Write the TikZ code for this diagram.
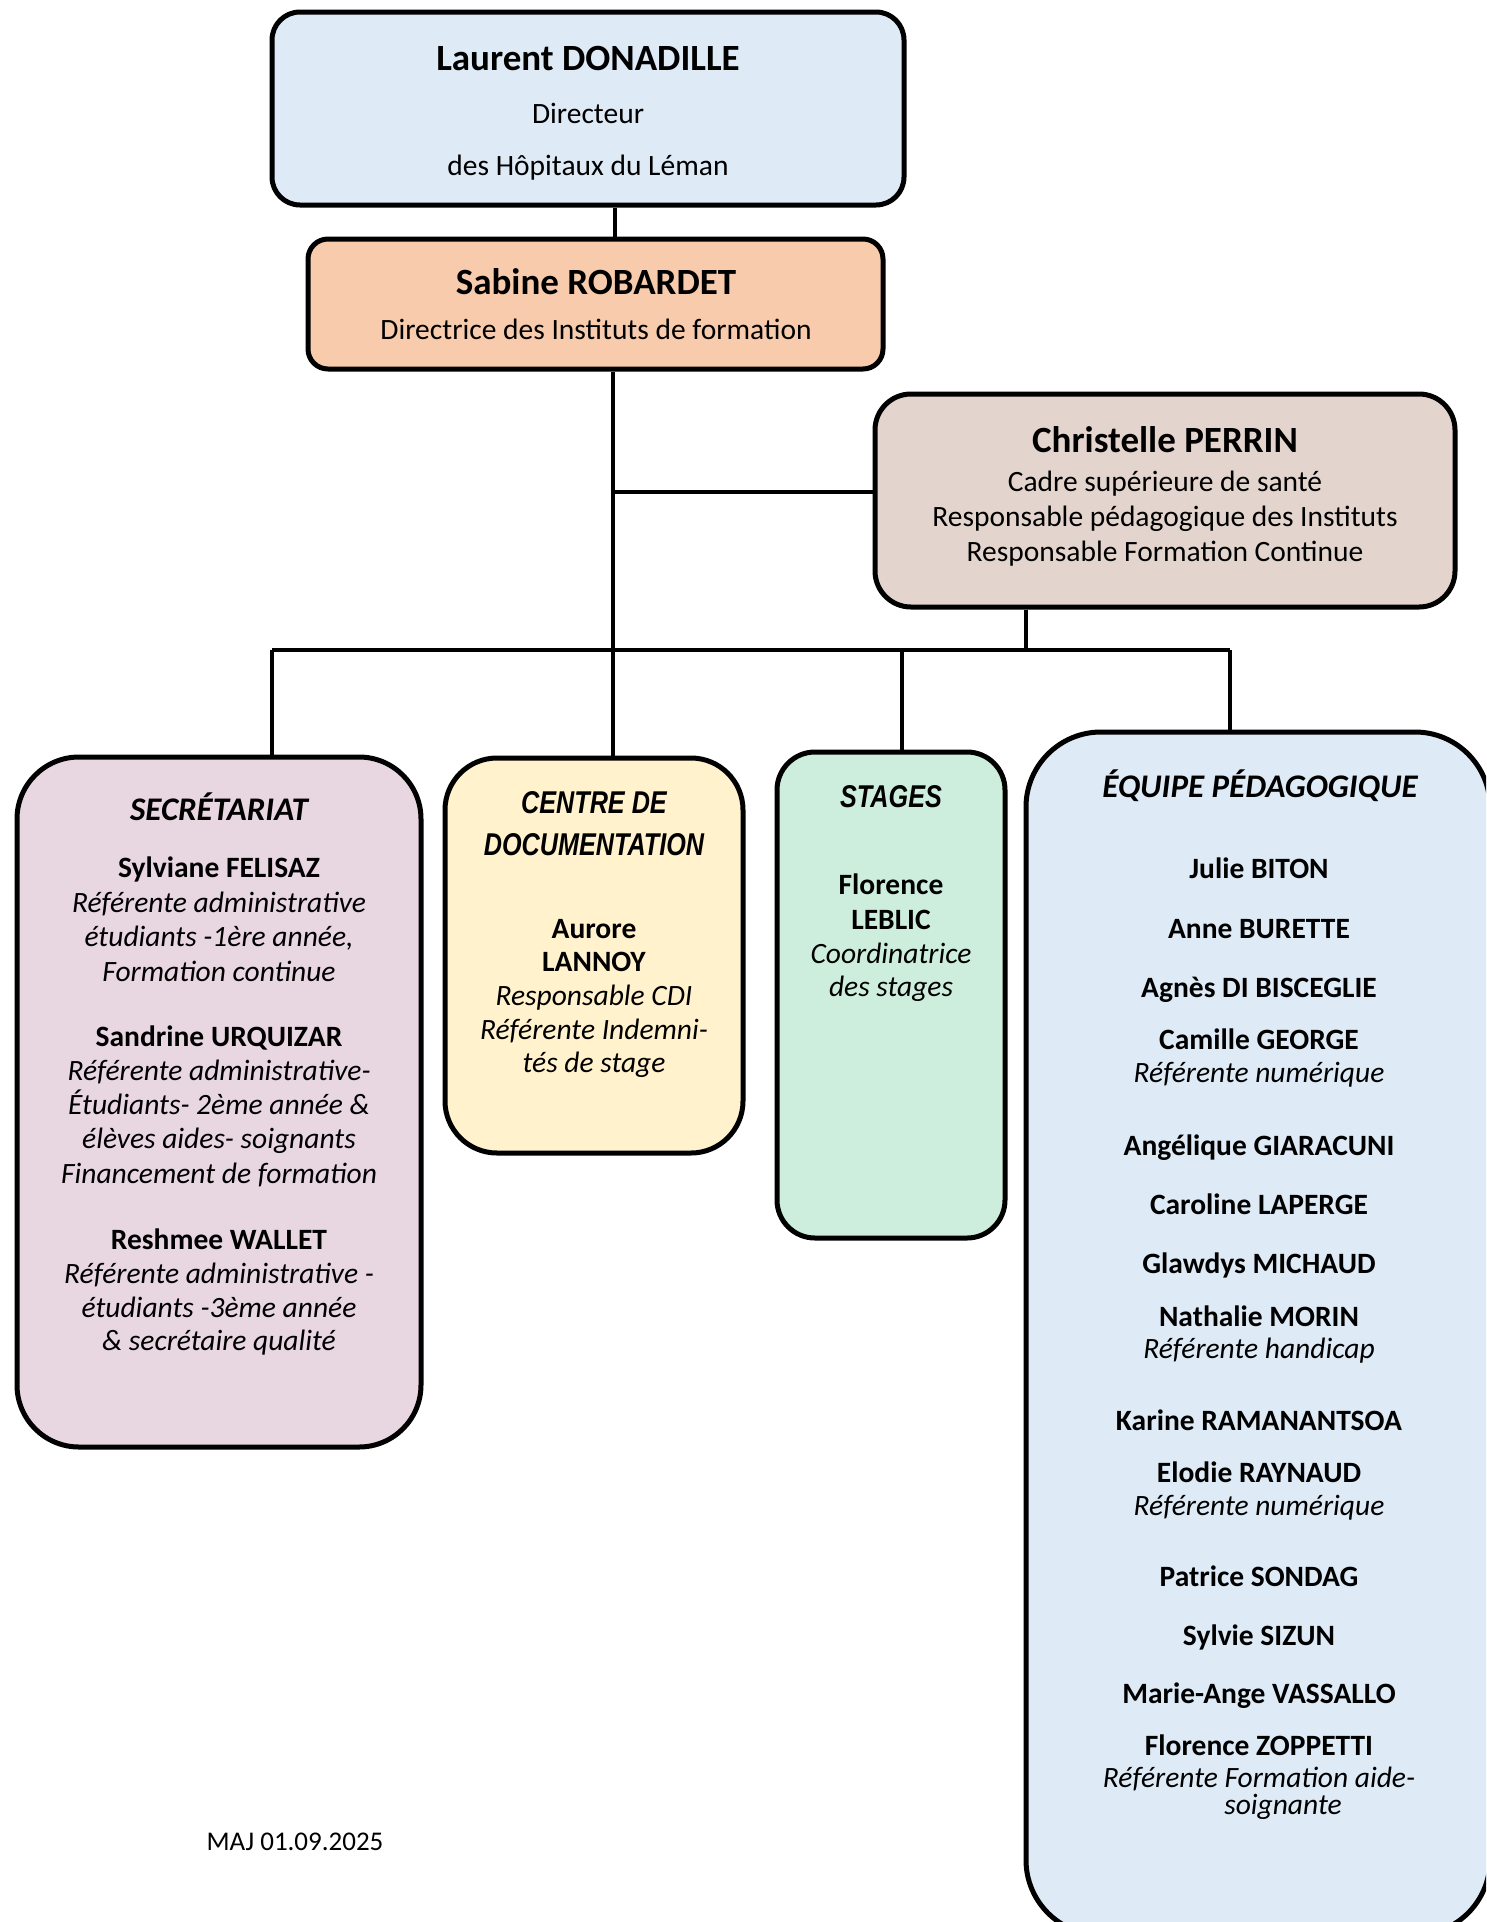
\documentclass[tikz,border=0pt]{standalone}
\usepackage{fontspec}
\setmainfont{Carlito}
\newfontfamily\narrowfont[FakeStretch=0.8]{Liberation Sans}

\definecolor{dirblue}{HTML}{DEEAF6}
\definecolor{dirorange}{HTML}{F7CBAC}
\definecolor{cadretaupe}{HTML}{E3D5CD}
\definecolor{secrpink}{HTML}{E8D6E1}
\definecolor{docyellow}{HTML}{FFF2CC}
\definecolor{stagegreen}{HTML}{CDEEDC}

\tikzset{
  box/.style={draw=black, line width=5pt, rounded corners=#1, inner sep=0pt},
  box/.default=30pt,
  link/.style={line width=4pt},
  bigname/.style={anchor=base, font=\fontsize{37}{44}\selectfont\bfseries},
  title/.style={anchor=base, font=\fontsize{29.5}{35}\selectfont},
  head/.style={anchor=base, font=\fontsize{33}{39}\selectfont\bfseries\itshape},
  narrowhead/.style={anchor=base, font=\narrowfont\fontsize{31.5}{37}\selectfont\bfseries\itshape},
  who/.style={anchor=base, font=\fontsize{29.5}{35}\selectfont\bfseries},
  role/.style={anchor=base, font=\fontsize{29.5}{35}\selectfont\itshape},
}

\begin{document}
\begin{tikzpicture}[x=1pt, y=-1pt]

  \useasboundingbox (0,0) rectangle (1486,1922);

  % Boxes
  \node[box=28pt, fill=dirblue, minimum width=632pt, minimum height=193pt] (dir) at (588,108.5) {};
  \node[box=20pt, fill=dirorange, minimum width=575pt, minimum height=130pt] (dirinst) at (595.5,304) {};
  \node[box=36pt, fill=cadretaupe, minimum width=580pt, minimum height=213pt] (cadre) at (1165,500.5) {};
  \node[box=62pt, fill=secrpink, minimum width=404pt, minimum height=690pt] (secr) at (219,1102) {};
  \node[box=52pt, fill=docyellow, minimum width=298pt, minimum height=395pt] (doc) at (594,955.5) {};
  \node[box=38pt, fill=stagegreen, minimum width=228pt, minimum height=486pt] (stages) at (891,995) {};
  \begin{scope}
    \clip (0,0) rectangle (1486,1922);
    \node[box=75pt, fill=dirblue, minimum width=464pt, minimum height=1203pt] (equipe) at (1258,1333.5) {};
  \end{scope}

  % Connectors
  \coordinate (spine) at (613,650);
  \coordinate (cadrejoin) at (613,492);
  \coordinate (busL) at (272,650);
  \coordinate (busR) at (1230,650);
  \coordinate (stagedrop) at (902,650);
  \coordinate (cadredrop) at (1026,650);

  \draw[link] (dir.south -| 615,0) -- (dirinst.north -| 615,0);
  \draw[link] (spine |- dirinst.south) -- (spine |- doc.north);
  \draw[link] (cadrejoin) -- (cadrejoin -| cadre.west);
  \draw[link] (cadredrop |- cadre.south) -- (cadredrop);
  \draw[link] (busL) -- (busR);
  \draw[link] (busL) -- (busL |- secr.north);
  \draw[link] (stagedrop) -- (stagedrop |- stages.north);
  \draw[link] (busR) -- (busR |- equipe.north);

  % Direction
  \node[bigname] (dirname) at (588,70) {Laurent DONADILLE};
  \node[title] (dirrole) at (588,123.5) {Directeur};
  \node[title] (dirplace) at (588,175) {des Hôpitaux du Léman};

  \node[bigname] (instname) at (596,294) {Sabine ROBARDET};
  \node[title] (instrole) at (596,339.5) {Directrice des Instituts de formation};

  \node[bigname] (cadrename) at (1165,452) {Christelle PERRIN};
  \foreach \y/\txt [count=\i] in {491/Cadre supérieure de santé,
                                  526/Responsable pédagogique des Instituts,
                                  561/Responsable Formation Continue}
    \node[title] (cadrerole\i) at (1165,\y) {\txt};

  % Secretariat
  \node[head] (secrhead) at (219,820) {SECRÉTARIAT};
  \foreach \y/\txt [count=\i] in {877/Sylviane FELISAZ,
                                  1046/Sandrine URQUIZAR,
                                  1249/Reshmee WALLET}
    \node[who] (secrname\i) at (219,\y) {\txt};
  \foreach \y/\txt [count=\i] in {912/Référente administrative,
                                  946/{étudiants -1ère année,},
                                  981/Formation continue,
                                  1080/Référente administrative-,
                                  1114/Étudiants- 2ème année \&,
                                  1148/élèves aides- soignants,
                                  1183/Financement de formation,
                                  1283/Référente administrative -,
                                  1317/étudiants -3ème année,
                                  1350/\& secrétaire qualité}
    \node[role] (secrrole\i) at (219,\y) {\txt};

  % Documentation
  \node[narrowhead] (dochead1) at (594,813) {CENTRE DE};
  \node[narrowhead] (dochead2) at (594,855) {DOCUMENTATION};
  \node[who] (docname1) at (594,938) {Aurore};
  \node[who] (docname2) at (594,971) {LANNOY};
  \foreach \y/\txt [count=\i] in {1005/Responsable CDI,
                                  1039/Référente Indemni-,
                                  1072/tés de stage}
    \node[role] (docrole\i) at (594,\y) {\txt};

  % Stages
  \node[narrowhead] (stagehead) at (891,807) {STAGES};
  \node[who] (stagename1) at (891,894) {Florence};
  \node[who] (stagename2) at (891,929) {LEBLIC};
  \node[role] (stagerole1) at (891,963) {Coordinatrice};
  \node[role] (stagerole2) at (891,996) {des stages};

  % Equipe pedagogique
  \node[head] (eqhead) at (1260,797) {ÉQUIPE PÉDAGOGIQUE};
  \foreach \y/\txt [count=\i] in {878/Julie BITON,
                                  938/Anne BURETTE,
                                  997/Agnès DI BISCEGLIE,
                                  1049/Camille GEORGE,
                                  1155/Angélique GIARACUNI,
                                  1214/Caroline LAPERGE,
                                  1273/Glawdys MICHAUD,
                                  1326/Nathalie MORIN,
                                  1430/Karine RAMANANTSOA,
                                  1482/Elodie RAYNAUD,
                                  1586/Patrice SONDAG,
                                  1645/Sylvie SIZUN,
                                  1703/Marie-Ange VASSALLO,
                                  1755/Florence ZOPPETTI}
    \node[who] (eqname\i) at (1259,\y) {\txt};
  \foreach \y/\txt [count=\i] in {1082/Référente numérique,
                                  1358/Référente handicap,
                                  1515/Référente numérique,
                                  1787/Référente Formation aide-}
    \node[role] (eqrole\i) at (1259,\y) {\txt};
  \node[role] (eqrole5) at (1283,1814) {soignante};

  % Update date
  \node[anchor=base, font=\fontsize{27}{32}\selectfont] (update) at (295,1850) {MAJ 01.09.2025};

\end{tikzpicture}
\end{document}
